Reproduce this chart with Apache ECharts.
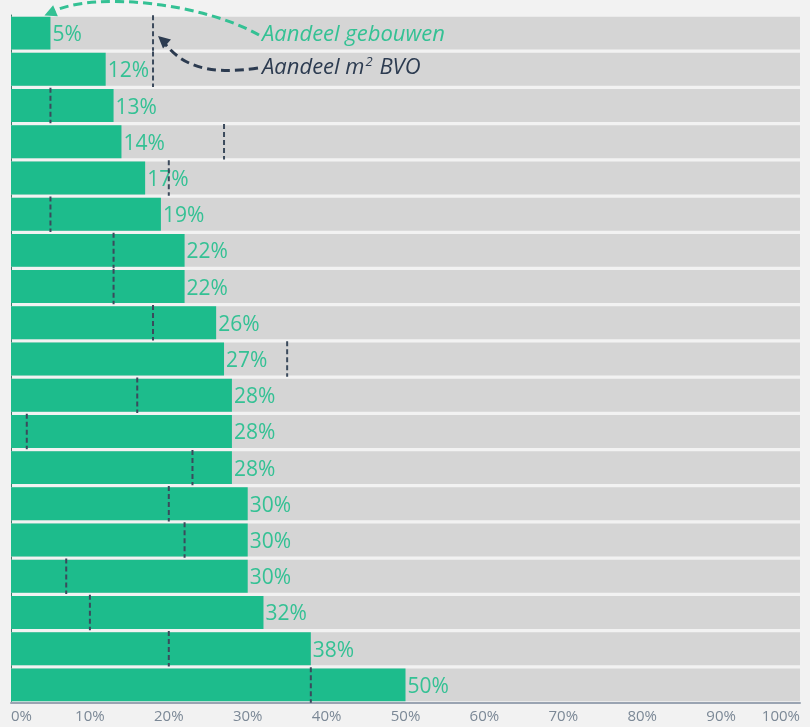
<!DOCTYPE html>
<html>
<head>
<meta charset="utf-8">
<script src="https://cdn.jsdelivr.net/npm/echarts@6/dist/echarts.min.js"></script>
<style>
  html, body { margin: 0; padding: 0; background: #f2f2f2; }
  #chart { width: 810px; height: 727px; }
</style>
</head>
<body>
<div id="chart"></div>
<script>
// Rows, top to bottom
const rows = ['r1','r2','r3','r4','r5','r6','r7','r8','r9','r10','r11','r12','r13','r14','r15','r16','r17','r18','r19'];
// Share of buildings (%)
const aandeelGebouwen = [5, 12, 13, 14, 17, 19, 22, 22, 26, 27, 28, 28, 28, 30, 30, 30, 32, 38, 50];
// Share of m² floor area (%)
const aandeelBVO = [18, 18, 5, 27, 20, 5, 13, 13, 18, 35, 16, 2, 23, 20, 22, 7, 10, 20, 38];
// Axis ticks
const xMin = 0, xMax = 100, xStep = 10;

const GREEN = '#1dbc8c';
const LABEL_GREEN = '#34c194';
const NAVY = '#2c3b50';
const FONT = '"Open Sans", "DejaVu Sans", sans-serif';

const chart = echarts.init(document.getElementById('chart'));

chart.setOption({
  backgroundColor: '#f2f2f2',
  animation: false,
  grid: { left: 11, right: 10, top: 15, bottom: 24 },
  xAxis: {
    type: 'value',
    min: xMin, max: xMax, interval: xStep,
    splitLine: { show: false },
    axisTick: { show: false },
    axisLine: { show: true, lineStyle: { color: '#9aa4b2', width: 2 } },
    axisLabel: {
      formatter: '{value}%',
      color: '#7b8896',
      fontFamily: FONT,
      fontSize: 15,
      margin: 6,
      alignMinLabel: 'left',
      alignMaxLabel: 'right'
    }
  },
  yAxis: {
    type: 'category',
    data: rows,
    inverse: true,
    axisLabel: { show: false },
    axisTick: { show: false },
    axisLine: { show: true, lineStyle: { color: '#3e7d6c', width: 1 } }
  },
  series: [
    {
      name: 'Aandeel gebouwen',
      type: 'bar',
      data: aandeelGebouwen,
      barCategoryGap: '9%',
      showBackground: true,
      backgroundStyle: { color: '#d5d5d5' },
      itemStyle: { color: GREEN },
      label: {
        show: true,
        position: 'right',
        distance: 2,
        offset: [0, 2],
        formatter: '{c}%',
        color: LABEL_GREEN,
        fontFamily: FONT,
        fontSize: 21
      },
      z: 2
    },
    {
      name: 'Aandeel m² BVO',
      type: 'custom',
      data: aandeelBVO.map((v, i) => [v, i]),
      encode: { x: 0, y: 1 },
      z: 10,
      renderItem: function (params, api) {
        const p = api.coord([api.value(0), api.value(1)]);
        const h = api.size([0, 1])[1];
        return {
          type: 'line',
          shape: { x1: p[0], y1: p[1] - h * 0.49, x2: p[0], y2: p[1] + h * 0.49 },
          style: { stroke: '#3b4a5c', lineWidth: 2, lineDash: [5, 3] },
          z2: 100
        };
      }
    }
  ]
});

// Annotation callouts pointing at the first row
const barTip = chart.convertToPixel({ gridIndex: 0 }, [aandeelGebouwen[0], rows[0]]);
const bvoTip = chart.convertToPixel({ gridIndex: 0 }, [aandeelBVO[0], rows[0]]);
const band = 688 / rows.length;

function arrowHead(tip, from, color) {
  const ang = Math.atan2(tip[1] - from[1], tip[0] - from[0]);
  const len = 12, half = 6;
  const bx = tip[0] - len * Math.cos(ang), by = tip[1] - len * Math.sin(ang);
  return {
    type: 'polygon',
    shape: {
      points: [
        tip,
        [bx + half * Math.sin(ang), by - half * Math.cos(ang)],
        [bx - half * Math.sin(ang), by + half * Math.cos(ang)]
      ]
    },
    style: { fill: color },
    z: 100
  };
}

const gTip = [barTip[0] - 6, barTip[1] - band / 2 + 0.5];
const gStart = [259, 35];
const gCp1 = [205, 4], gCp2 = [95, -10];

const nTip = [bvoTip[0] + 5, bvoTip[1] + 3];
const nStart = [258, 68];
const nCp1 = [205, 76], nCp2 = [180, 64];

chart.setOption({
  graphic: [
    {
      type: 'bezierCurve',
      shape: { x1: gStart[0], y1: gStart[1], x2: gTip[0] + 6, y2: gTip[1] - 3,
               cpx1: gCp1[0], cpy1: gCp1[1], cpx2: gCp2[0], cpy2: gCp2[1] },
      style: { stroke: LABEL_GREEN, lineWidth: 3, lineDash: [9, 5], fill: null },
      z: 100
    },
    arrowHead(gTip, [gTip[0] + 14, gTip[1] - 6], LABEL_GREEN),
    {
      type: 'text',
      left: 262, top: 24,
      style: {
        text: 'Aandeel gebouwen',
        fill: LABEL_GREEN,
        font: 'italic 22px ' + FONT
      },
      z: 100
    },
    {
      type: 'bezierCurve',
      shape: { x1: nStart[0], y1: nStart[1], x2: nTip[0] + 5, y2: nTip[1] + 5,
               cpx1: nCp1[0], cpy1: nCp1[1], cpx2: nCp2[0], cpy2: nCp2[1] },
      style: { stroke: NAVY, lineWidth: 3, lineDash: [9, 5], fill: null },
      z: 100
    },
    arrowHead(nTip, [nTip[0] + 9, nTip[1] + 8], NAVY),
    {
      type: 'text',
      left: 262, top: 56,
      style: {
        rich: {
          t: { fill: NAVY, font: 'italic 22px ' + FONT },
          s: { fill: NAVY, font: 'italic 13px ' + FONT, verticalAlign: 'top', padding: [0, 1, 10, 1] }
        },
        text: '{t|Aandeel m}{s|2}{t| BVO}'
      },
      z: 100
    }
  ]
});
</script>
</body>
</html>
